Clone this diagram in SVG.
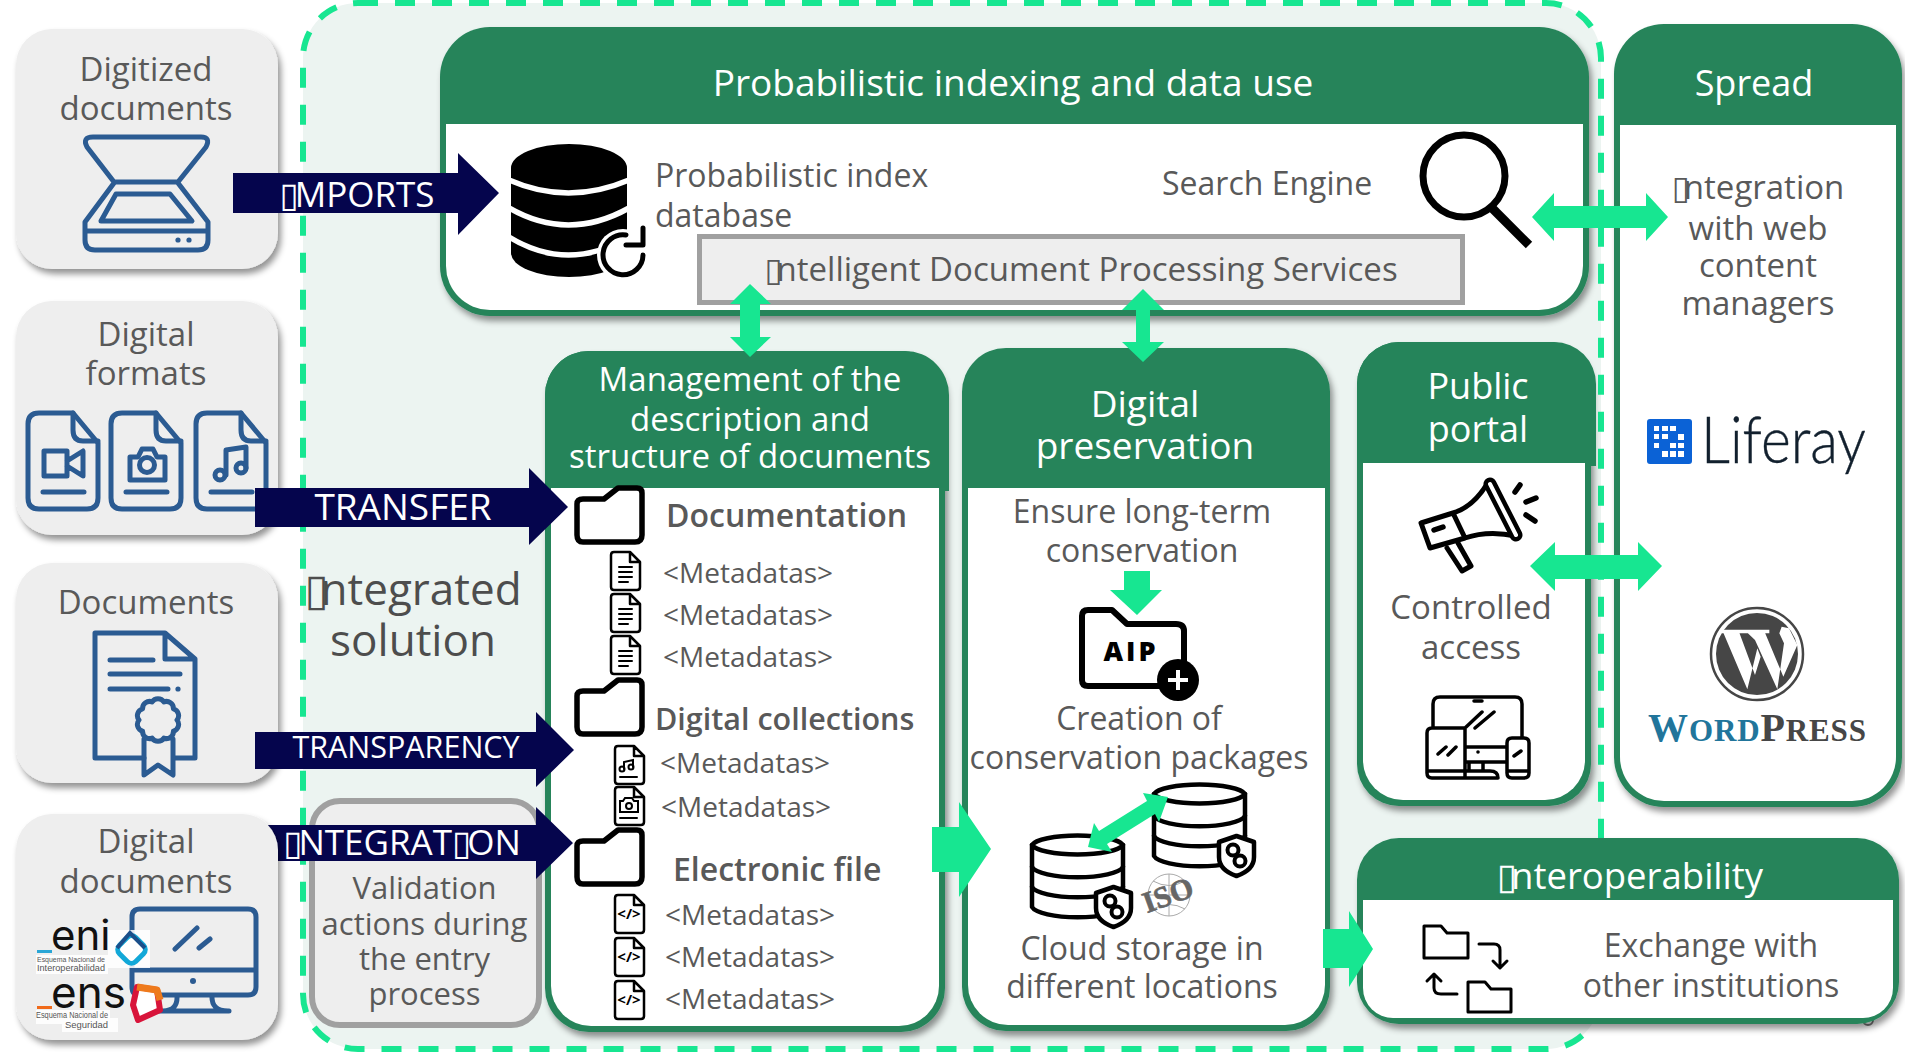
<svg xmlns="http://www.w3.org/2000/svg" width="1905" height="1056" viewBox="0 0 1905 1056">
<style>
text{font-family:"Open Sans","DejaVu Sans",sans-serif;text-anchor:middle;fill:#595959}
.c33{font-size:33px}.c32{font-size:32px}.c28{font-size:28px}
.w{fill:#fff}.l{text-anchor:start}.b{font-weight:600}
.hd{font-size:36px;fill:#fff}
.arrowtext{fill:#fff}
.card{fill:#eee;filter:url(#sh)}
.pg{fill:#25845a;filter:url(#sh)}
.hg{fill:#25845a}
.pw{fill:#fff}
.navy{fill:#05054d}.mint{fill:#17e691}
.bl{fill:none;stroke:#2b5b92;stroke-width:5;stroke-linejoin:round;stroke-linecap:round}
.k{fill:none;stroke:#000;stroke-width:4.5;stroke-linejoin:round;stroke-linecap:round}
.kw{fill:#fff;stroke:#000;stroke-width:4.5;stroke-linejoin:round;stroke-linecap:round}
.kf{fill:#fff;stroke:#000;stroke-width:5.500;stroke-linejoin:round}
.kt{fill:#fff;stroke:#000;stroke-width:2.5;stroke-linejoin:round;stroke-linecap:round}
.kl{fill:none;stroke:#000;stroke-width:2;stroke-linecap:round}
.sm{fill:#555;font-family:"Liberation Sans",sans-serif;text-anchor:start}
.logo{font-family:"Inter","Liberation Sans",sans-serif;font-size:42px;fill:#111;text-anchor:start}
</style>
<defs>
<filter id="sh" x="-10%" y="-10%" width="125%" height="125%"><feDropShadow dx="3" dy="5" stdDeviation="3" flood-color="#000" flood-opacity=".42"/></filter>
<g id="fbig"><path class="bl" d="M12 1H46L71 31V86Q71 97 60 97H12Q1 97 1 86V12Q1 1 12 1Z"/><path class="bl" d="M46 1V18Q46 29 56 29H71M16 80H57"/></g>
<path id="folder" class="kf" d="M3 19Q3 14 9 14H30L44 3H63Q68 3 68 8V50Q68 57 61 57H9Q3 57 3 50Z"/>
<path id="doc" class="kt" d="M4 1H20L30 11V36Q30 39 27 39H4Q1 39 1 36V4Q1 1 4 1ZM20 1V11H30"/>
<path id="dl" class="kl" d="M9 16H22M9 21H22M9 26H22M9 31H18"/>
<g id="db"><path class="kw" d="M1 12A46 11 0 0 1 92 12V74A46 12 0 0 1 1 74Z"/><path class="k" d="M1 12A46 11 0 0 0 92 12M1 34A46 12 0 0 0 92 34M1 54A46 12 0 0 0 92 54"/></g>
<g id="shield"><path class="kw" d="M18.5 1L36 7V22Q36 35 18.5 41Q1 35 1 22V7Z"/><circle class="k" style="stroke-width:4" cx="15" cy="15" r="5.500"/><circle class="k" style="stroke-width:4" cx="22" cy="26" r="5.500"/></g>
</defs>

<rect id="container" x="303" y="3" width="1298" height="1046" rx="55" fill="#ecf4f1" stroke="#17e691" stroke-width="6" stroke-dasharray="20 17"/>
<circle cx="1868" cy="1020" r="5" fill="none" stroke="#777" stroke-width="2"/>

<g id="digitized-documents">
<rect class="card" x="16" y="29" width="262" height="240" rx="36"/>
<text class="c33" x="146" y="81">Digitized</text><text class="c33" x="146" y="120">documents</text>
<path class="bl" d="M93 137H201Q211 137 206 147L178 182H114L87 147Q82 137 93 137ZM114 183L85 222V240Q85 250 95 250H198Q208 250 208 240V222L178 183M116 194H170L192 221H101ZM85 231H208"/>
<circle cx="178" cy="240" r="2.6" fill="#2b5b92"/><circle cx="189" cy="240" r="2.6" fill="#2b5b92"/>
</g>
<g id="digital-formats">
<rect class="card" x="16" y="301" width="262" height="234" rx="36"/>
<text class="c33" x="146" y="346">Digital</text><text class="c33" x="146" y="385">formats</text>
<use href="#fbig" x="27" y="412"/><use href="#fbig" x="110" y="412"/><use href="#fbig" x="195" y="412"/>
<path class="bl" d="M44 451H67V476H44ZM67 461L83 451V476L67 466M130 457H138L142 449H153L157 457H165V480H130Z"/>
<circle class="bl" cx="147" cy="465" r="7.5"/>
<circle class="bl" cx="220" cy="475" r="5"/><circle class="bl" cx="241" cy="468" r="5"/>
<path class="bl" d="M226 475V450L246 447V468"/>
</g>
<g id="documents">
<rect class="card" x="16" y="563" width="262" height="220" rx="36"/>
<text class="c33" x="146" y="614">Documents</text>
<path class="bl" d="M144 758H95V633H165L195 659V758H174M165 633V659H195M110 660H153M110 674H180M110 689H168"/>
<circle cx="178" cy="689" r="2.6" fill="#2b5b92"/>
<path class="bl" d="M177 720A7 7 0 0 1 173.400 731.200A7 7 0 0 1 163.900 738.100A7 7 0 0 1 152.100 738.100A7 7 0 0 1 142.600 731.200A7 7 0 0 1 139 720A7 7 0 0 1 142.600 708.800A7 7 0 0 1 152.100 701.900A7 7 0 0 1 163.900 701.900A7 7 0 0 1 173.400 708.800A7 7 0 0 1 177 720ZM144 739V775L158 765L173 775V739"/>
</g>

<g id="probabilistic-indexing">
<rect class="pg" x="440" y="27" width="1149" height="289" rx="50"/>
<path class="pw" d="M446 124H1583V266a44 44 0 0 1-44 44H490a44 44 0 0 1-44-44Z"/>
<text class="hd" style="font-size:37px" x="1013" y="96">Probabilistic indexing and data use</text>
<path fill="#000" d="M511 168a58 24 0 0 1 116 0V253a58 24 0 0 1-116 0Z"/>
<path d="M509 180Q568 206 629 180M509 208Q568 242 629 208M509 237Q568 273 629 237" fill="none" stroke="#fff" stroke-width="5.500"/>
<circle cx="623" cy="255" r="26" fill="#fff"/>
<path d="M643 255A20 20 0 1 1 626 235" fill="none" stroke="#000" stroke-width="5" stroke-linecap="round"/>
<path d="M626 245H643V228" fill="none" stroke="#000" stroke-width="5" stroke-linecap="round" stroke-linejoin="round"/>
<text class="c32 l" x="655" y="187">Probabilistic index</text><text class="c32 l" x="655" y="227">database</text>
<text class="c32 l" x="1162" y="195">Search Engine</text>
<circle cx="1464" cy="176" r="41" fill="none" stroke="#000" stroke-width="7"/>
<path d="M1492 208L1529 245" stroke="#000" stroke-width="9" fill="none"/>
<rect x="699.500" y="236.500" width="763" height="66" fill="#eee" stroke="#a0a0a0" stroke-width="5"/>
<text class="c33" x="1081" y="281">▯<tspan dx="-6">ntelligent Document Processing Services</tspan></text>
</g>

<g id="spread">
<rect class="pg" x="1614" y="24" width="288" height="783" rx="50"/>
<path class="pw" d="M1620 125H1896V757a44 44 0 0 1-44 44H1664a44 44 0 0 1-44-44Z"/>
<text class="hd" x="1754" y="96">Spread</text>
<text class="c33" x="1758" y="199">▯<tspan dx="-6">ntegration</tspan></text><text class="c33" x="1758" y="240">with web</text><text class="c33" x="1758" y="277">content</text><text class="c33" x="1758" y="315">managers</text>
<rect x="1647" y="419" width="45" height="45" rx="3" fill="#0b62d6"/>
<path fill="#fff" d="M1654 426h5v5h-5zM1662 426h6v5h-6zM1670 426h6v5h-6zM1654 434h5v5h-5zM1662 434h6v5h-6zM1678 434h6v6h-6zM1654 443h5v5h-5zM1670 443h6v5h-6zM1678 443h6v5h-6zM1662 451h6v6h-6zM1670 451h6v6h-6zM1678 451h6v6h-6z"/>
<text x="1701" y="463" font-size="66" font-weight="300" textLength="165" lengthAdjust="spacingAndGlyphs" style="font-family:Lato,'Open Sans',sans-serif;text-anchor:start;fill:#12202e;stroke:#12202e;stroke-width:.4">Liferay</text>
<circle cx="1757" cy="654" r="46" fill="none" stroke="#464646" stroke-width="2.500"/>
<circle cx="1757" cy="654" r="41" fill="#464646"/>
<g transform="translate(1640 400) scale(.33333)" fill="#fff">
<path d="M246 689H388V700H246ZM250 698H298L345 825L322 868ZM322 868L345 825L362 770L352 745ZM322 698H375L430 830L412 868L345 720ZM412 868L430 830L472 735L447 685L425 680L418 700L432 730Z"/>
</g>
<text y="741" x="1648" textLength="218" lengthAdjust="spacing" font-weight="700" font-size="31" style="font-family:'Liberation Serif',serif;text-anchor:start;fill:#21759b"><tspan font-size="40">W</tspan>ORD<tspan fill="#464646" font-size="40">P</tspan><tspan fill="#464646">RESS</tspan></text>
</g>

<g id="validation">
<rect x="312" y="801" width="227" height="224" rx="28" fill="#eee" stroke="#a0a0a0" stroke-width="6"/>
<text style="font-size:31px" x="424.500" y="899">Validation</text><text style="font-size:31px" x="424.500" y="935">actions during</text><text style="font-size:31px" x="424.500" y="970">the entry</text><text style="font-size:31px" x="424.500" y="1005">process</text>
</g>

<g id="integrated-solution"><text x="413" y="605" style="font-size:44px;fill:#4d4d4d">▯<tspan dx="-8">ntegrated</tspan></text><text x="413" y="656" style="font-size:44px;fill:#4d4d4d">solution</text></g>

<g id="management">
<rect class="pg" x="545" y="351" width="400" height="681" rx="44"/>
<path class="hg" d="M545 488V395a44 44 0 0 1 44-44H905a44 44 0 0 1 44 44V491H945V488Z"/>
<path class="pw" d="M551 488H939V986a40 40 0 0 1-40 40H591a40 40 0 0 1-40-40Z"/>
<text class="c33 w" x="750" y="391">Management of the</text><text class="c33 w" x="750" y="431">description and</text><text class="c33 w" x="750" y="468">structure of documents</text>
<use href="#folder" x="574" y="485"/>
<text class="c32 l b" x="666" y="527">Documentation</text>
<use href="#doc" x="610" y="551"/><use href="#dl" x="610" y="551"/><use href="#doc" x="610" y="593"/><use href="#dl" x="610" y="593"/><use href="#doc" x="610" y="635"/><use href="#dl" x="610" y="635"/>
<text class="c28 l" x="663" y="583">&lt;Metadatas&gt;</text><text class="c28 l" x="663" y="625">&lt;Metadatas&gt;</text><text class="c28 l" x="663" y="667">&lt;Metadatas&gt;</text>
<use href="#folder" x="574" y="677"/>
<text class="b l" style="font-size:30.500px" x="655" y="730">Digital collections</text>
<use href="#doc" x="614" y="745"/><use href="#doc" x="614" y="786"/>
<path class="kl" d="M620 777H637M620 818H637M624 769V762L633 760V767"/>
<circle class="kl" cx="622" cy="769" r="2.500"/><circle class="kl" cx="631" cy="767" r="2.500"/>
<path class="kl" d="M620 801H623L625 798H632L634 801H638V812H620Z"/><circle class="kl" cx="629" cy="806" r="3"/>
<text class="c28 l" x="660" y="773">&lt;Metadatas&gt;</text><text class="c28 l" x="661" y="817">&lt;Metadatas&gt;</text>
<use href="#folder" x="574" y="827"/>
<text class="c32 l b" x="673" y="881">Electronic file</text>
<use href="#doc" x="614" y="894"/><use href="#doc" x="614" y="937"/><use href="#doc" x="614" y="980"/>
<text x="629" y="919" style="font-size:15px;font-weight:700;fill:#000">&lt;/&gt;</text><text x="629" y="962" style="font-size:15px;font-weight:700;fill:#000">&lt;/&gt;</text><text x="629" y="1005" style="font-size:15px;font-weight:700;fill:#000">&lt;/&gt;</text>
<text class="c28 l" x="665" y="925">&lt;Metadatas&gt;</text><text class="c28 l" x="665" y="967">&lt;Metadatas&gt;</text><text class="c28 l" x="665" y="1009">&lt;Metadatas&gt;</text>
</g>

<g id="digital-preservation">
<rect class="pg" x="962" y="348" width="368" height="683" rx="44"/>
<path class="pw" d="M968 488H1325V985a40 40 0 0 1-40 40H1008a40 40 0 0 1-40-40Z"/>
<text class="hd w" style="font-size:37px" x="1145" y="417">Digital</text><text class="hd w" style="font-size:37px" x="1145" y="459">preservation</text>
<text class="c32" x="1142" y="523">Ensure long-term</text><text class="c32" x="1142" y="562">conservation</text>
<path d="M1082 616Q1082 610 1088 610H1112L1127 624H1176Q1184 624 1184 631V680Q1184 686 1178 686H1088Q1082 686 1082 680Z" fill="none" stroke="#000" stroke-width="6" stroke-linejoin="round"/>
<text x="1131" y="661" style="font-size:27px;font-weight:800;fill:#000;letter-spacing:3px">AIP</text>
<circle cx="1178" cy="680" r="21" fill="#000"/><path d="M1178 670V690M1168 680H1188" stroke="#fff" stroke-width="4"/>
<text class="c32" x="1139" y="730">Creation of</text><text class="c32" x="1139" y="769">conservation packages</text>
<use href="#db" x="1153" y="782"/><use href="#db" x="1031" y="833"/>
<use href="#shield" x="1218" y="835"/><use href="#shield" x="1095" y="886"/>
<circle cx="1169" cy="895" r="21" fill="none" stroke="#aaa" stroke-width="1"/><path d="M1148 895H1190M1169 874V916M1153 881Q1169 890 1185 881M1153 909Q1169 900 1185 909" fill="none" stroke="#aaa"/>
<text x="1168" y="905" transform="rotate(-20 1168 895)" style="font-family:'Liberation Serif',serif;font-weight:700;font-size:30px;fill:#666;stroke:#666;stroke-width:.7">ISO</text>
<text class="c32" x="1142" y="960">Cloud storage in</text><text class="c32" x="1142" y="998">different locations</text>
</g>

<g id="public-portal">
<rect class="pg" x="1357" y="342" width="234" height="464" rx="42"/>
<path class="hg" d="M1357 463V384a42 42 0 0 1 42-42H1554a42 42 0 0 1 42 42V466H1590V463Z"/>
<path class="pw" d="M1363 463H1585V760a40 40 0 0 1-40 40H1403a40 40 0 0 1-40-40Z"/>
<text class="hd w" x="1478" y="399">Public</text><text class="hd w" x="1478" y="442">portal</text>
<path class="kw" style="stroke-width:5" d="M1447 548L1462 571L1471 566L1458 543"/>
<path class="kw" style="stroke-width:5" d="M1421 523L1453 513Q1473 507 1487 484L1516 536Q1488 530 1465 538L1430 548ZM1453 513L1465 538"/>
<path d="M1490 484L1516 535" stroke="#000" stroke-width="13" stroke-linecap="round"/><path d="M1490 484L1516 535" stroke="#fff" stroke-width="4" stroke-linecap="round"/>
<path d="M1520 485L1515 492M1526 502L1536 498M1526 515L1535 521M1434 530L1443 527" stroke="#000" stroke-width="5.500" stroke-linecap="round"/>
<text class="c33" x="1471" y="619" style="font-weight:500">Controlled</text><text class="c33" x="1471" y="659" style="font-weight:500">access</text>
<path class="k" style="stroke-width:3.500" d="M1433 728V704Q1433 697 1440 697H1515Q1522 697 1522 704V738M1465 747H1507M1465 762H1507M1427 733Q1427 728 1432 728H1465V778H1432Q1427 778 1427 773ZM1427 771H1465M1507 743Q1507 738 1512 738H1524Q1529 738 1529 743V773Q1529 778 1524 778H1512Q1507 778 1507 773ZM1507 771H1529M1465 778H1498Q1498 771 1490 771H1465M1469 762V771M1483 762V771M1465 728L1482 712M1475 728L1494 712M1438 754L1446 747M1448 755L1456 747M1514 756L1521 751M1474 701H1482"/>
<circle cx="1478" cy="752" r="1.800" fill="#000"/>
</g>

<g id="interoperability">
<rect class="pg" x="1357" y="838" width="542" height="186" rx="42"/>
<path class="pw" d="M1363 900H1893V988a30 30 0 0 1-30 30H1393a30 30 0 0 1-30-30Z"/>
<text class="w" style="font-size:36.500px" x="1630" y="889">▯<tspan dx="-6">nteroperability</tspan></text>
<path class="k" style="stroke-width:3" d="M1424 958V926H1441L1447 933H1468V958ZM1468 1012V982H1485L1491 989H1511V1012ZM1479 944H1494Q1500 944 1500 950V966M1493 961L1500 968L1507 961M1457 994H1441Q1434 994 1434 988V976M1427 981L1434 974L1441 981"/>
<text class="c32" x="1711" y="957">Exchange with</text><text class="c32" x="1711" y="997">other institutions</text>
</g>

<g id="connectors">
<polygon class="navy" points="233,173 458,173 458,153 499,193 458,235 458,213 233,213"/>
<text class="arrowtext" style="font-size:35px" x="357" y="207">▯<tspan dx="-4">MPORTS</tspan></text>
<polygon class="navy" points="255,488 529,488 529,468 568,507 529,545 529,527 255,527"/>
<text class="arrowtext" style="font-size:37px" x="403" y="520">TRANSFER</text>
<polygon class="navy" points="255,732 536,732 536,712 574,750 536,787 536,769 255,769"/>
<text class="arrowtext" style="font-size:30.500px" x="406" y="758">TRANSPARENCY</text>
<polygon class="navy" points="262,825 536,825 536,807 573,843 536,879 536,861 262,861"/>
<text class="arrowtext" style="font-size:35px" x="402" y="855">▯<tspan dx="-4">NTEGRAT</tspan>▯<tspan dx="-4">ON</tspan></text>
<polygon class="mint" points="1532,217 1554,193 1554,206 1646,206 1646,193 1668,217 1646,241 1646,228 1554,228 1554,241"/>
<polygon class="mint" points="750,284 771,304 760,304 760,337 771,337 750,357 730,337 740,337 740,304 730,304"/>
<polygon class="mint" points="1143,289 1164,310 1150,310 1150,342 1164,342 1143,362 1122,342 1136,342 1136,310 1122,310"/>
<polygon class="mint" points="1530,566 1555,542 1555,555 1638,555 1638,542 1662,566 1638,591 1638,579 1555,579 1555,591"/>
<polygon class="mint" points="932,827 959,827 959,802 991,849 959,897 959,872 932,872"/>
<polygon class="mint" points="1323,929 1349,929 1349,911 1373,949 1349,987 1349,968 1323,968"/>
<polygon class="mint" points="1124,571 1150,571 1150,590 1162,590 1137,615 1110,590 1124,590"/>
<polygon class="mint" points="1168,797 1159,822 1155,814 1107,844 1112,852 1088,847 1094,823 1099,831 1147,801 1143,793"/>
</g>

<g id="digital-documents">
<rect class="card" x="16" y="814" width="262" height="226" rx="36"/>
<text class="c33" x="146" y="853">Digital</text><text class="c33" x="146" y="893">documents</text>
<path class="bl" d="M143 909H248Q256 909 256 917V987Q256 995 248 995H140Q132 995 132 987V917Q132 909 140 909ZM132 970H256M177 995Q178 1011 163 1011M212 995Q211 1011 228 1011M158 1011H229M175 949L197 928M199 948L210 939"/>
<circle cx="193" cy="981" r="3" fill="#2b5b92"/>
<path d="M36 955H108V930H150V968H108V974H36ZM36 1010H110V1018H118V1032H62V1024H36Z" fill="#fff" opacity=".85"/>
<rect x="37" y="950" width="15" height="3" fill="#2aa6d6"/>
<text class="logo" x="51" y="950">eni</text>
<text class="sm" style="font-size:7.800px" x="37" y="962" textLength="68" lengthAdjust="spacingAndGlyphs">Esquema Nacional de</text>
<text class="sm" style="font-size:9px" x="37" y="971" textLength="68" lengthAdjust="spacingAndGlyphs">Interoperabilidad</text>
<rect x="37" y="1006" width="15" height="3" fill="#f06a1a"/>
<text class="logo" x="51" y="1008" style="font-size:44px">ens</text>
<text class="sm" style="font-size:8.200px" x="36" y="1018" textLength="72" lengthAdjust="spacingAndGlyphs">Esquema Nacional de</text>
<text class="sm" style="font-size:9.500px" x="65" y="1028" textLength="43" lengthAdjust="spacingAndGlyphs">Seguridad</text>
<rect x="120" y="938" width="23" height="23" rx="6" transform="rotate(45 131.500 949.500)" fill="#fff" stroke="#12a8d8" stroke-width="5"/>
<path d="M117 948L130 933L145 948" fill="none" stroke="#1b4f8a" stroke-width="4"/>
<path d="M137 987L157 990L160 1010L138 1020L133 1005Z" fill="#fff" stroke="#d8143a" stroke-width="6" stroke-linejoin="round"/>
<path d="M137 987L157 990L160 1000" fill="none" stroke="#ee7a1c" stroke-width="7" stroke-linejoin="round"/>
</g>
</svg>
